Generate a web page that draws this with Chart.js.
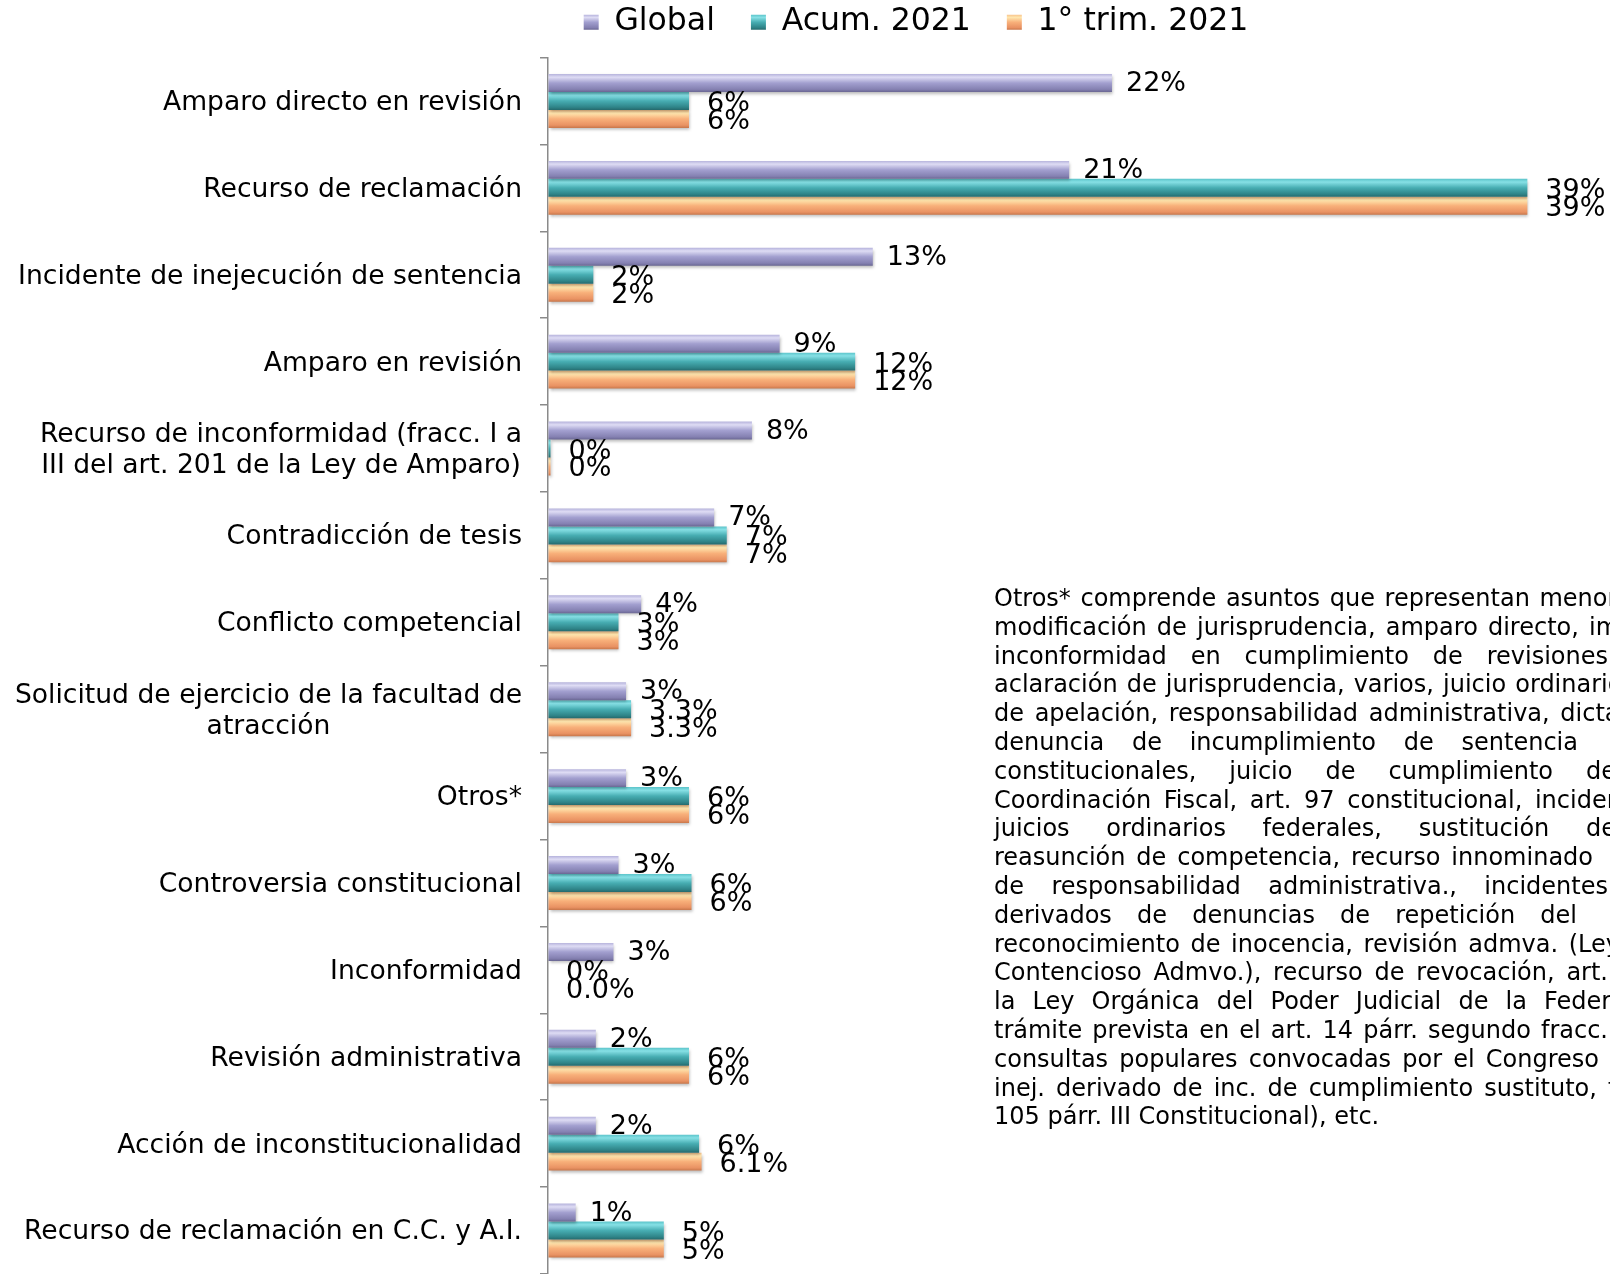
<!DOCTYPE html>
<html><head><meta charset="utf-8">
<script src="https://cdn.jsdelivr.net/npm/chart.js@4.4.1/dist/chart.umd.min.js"></script>
<style>
html,body{margin:0;padding:0;background:#fff;overflow:hidden;width:1610px;height:1274px}
#wrap{position:absolute;left:0;top:0;width:1832px;height:1274px}
#note{position:absolute;left:994px;top:584px;font:24px "DejaVu Sans",sans-serif;line-height:28.8px;color:#000}
#note div{white-space:nowrap;height:28.8px}
#note div.j{text-align:justify;text-align-last:justify;white-space:normal;overflow:visible}
</style></head>
<body>
<div id="wrap"><canvas id="c" width="1832" height="1274"></canvas></div>
<div id="note">
 <div style="word-spacing:2px">Otros* comprende asuntos que representan menor</div>
 <div style="word-spacing:2.5px">modificación de jurisprudencia, amparo directo, impedimento</div>
 <div class="j" style="width:614px">inconformidad en cumplimiento de revisiones</div>
 <div style="word-spacing:1.5px">aclaración de jurisprudencia, varios, juicio ordinario</div>
 <div style="word-spacing:3px">de apelación, responsabilidad administrativa, dictamen</div>
 <div class="j" style="width:584px">denuncia de incumplimiento de sentencia</div>
 <div class="j" style="width:622px">constitucionales, juicio de cumplimiento de</div>
 <div style="word-spacing:5px">Coordinación Fiscal, art. 97 constitucional, incidente</div>
 <div class="j" style="width:622px">juicios ordinarios federales, sustitución de</div>
 <div class="j" style="width:599px">reasunción de competencia, recurso innominado</div>
 <div class="j" style="width:614px">de responsabilidad administrativa., incidentes</div>
 <div class="j" style="width:583px">derivados de denuncias de repetición del</div>
 <div class="j" style="width:626px">reconocimiento de inocencia, revisión admva. (Ley</div>
 <div class="j" style="width:614px">Contencioso Admvo.), recurso de revocación, art.</div>
 <div style="word-spacing:9.5px">la Ley Orgánica del Poder Judicial de la Federación</div>
 <div class="j" style="width:614px">trámite prevista en el art. 14 párr. segundo fracc.</div>
 <div class="j" style="width:605px">consultas populares convocadas por el Congreso</div>
 <div style="word-spacing:3.5px">inej. derivado de inc. de cumplimiento sustituto, fracc.</div>
 <div>105 párr. III Constitucional), etc.</div>
</div>
<script>
const FONT='"DejaVu Sans",sans-serif';
const CATS=[
 "Amparo directo en revisión",
 "Recurso de reclamación",
 "Incidente de inejecución de sentencia",
 "Amparo en revisión",
 ["Recurso de inconformidad (fracc. I a","III del art. 201 de la Ley de Amparo)"],
 "Contradicción de tesis",
 "Conflicto competencial",
 ["Solicitud de ejercicio de la facultad de","atracción"],
 "Otros*",
 "Controversia constitucional",
 "Inconformidad",
 "Revisión administrativa",
 "Acción de inconstitucionalidad",
 "Recurso de reclamación en C.C. y A.I."
];
const SERIES=["Global","Acum. 2021","1° trim. 2021"];
const GLOBAL=[22.4,20.7,12.9,9.2,8.1,6.6,3.7,3.1,3.1,2.8,2.6,1.9,1.9,1.1];
const ACUM  =[5.6,38.9,1.8,12.2,0.1,7.1,2.8,3.3,5.6,5.7,0,5.6,6.0,4.6];
const TRIM  =[5.6,38.9,1.8,12.2,0.1,7.1,2.8,3.3,5.6,5.7,0,5.6,6.1,4.6];
// decimales mostrados en cada etiqueta
const DEC_GLOBAL=[0,0,0,0,0,0,0,0,0,0,0,0,0,0];
const DEC_ACUM  =[0,0,0,0,0,0,0,1,0,0,0,0,0,0];
const DEC_TRIM  =[0,0,0,0,0,0,0,1,0,0,1,0,1,0];

const STYLE=[
 {base:"#9b98c8",stops:["#b6b3dc","#dedcf4","#a29fcf","#8581b2","#6a6793"],gap:14,dy:1,dec:DEC_GLOBAL},
 {base:"#3fa5aa",stops:["#5cc4ca","#86e0e5","#47adb2","#2f8488","#256a6d"],gap:18,dy:3,dec:DEC_ACUM},
 {base:"#f5a56f",stops:["#f8c48c","#ffe6ae","#f8b07a","#e99263","#c8774b"],gap:18,dy:3,dec:DEC_TRIM},
];

function shade(c,st,t,h){
  const g=c.createLinearGradient(0,t,0,t+h);
  g.addColorStop(0,st[0]);g.addColorStop(0.18,st[1]);g.addColorStop(0.5,st[2]);
  g.addColorStop(0.85,st[3]);g.addColorStop(1,st[4]);
  return g;
}

const bevel={id:"bevel",
 beforeDatasetsDraw(chart){
  const c=chart.ctx;
  chart.data.datasets.forEach((ds,i)=>{
   chart.getDatasetMeta(i).data.forEach(b=>{
    b.options=Object.assign({},b.options,{backgroundColor:shade(c,STYLE[i].stops,b.y-b.height/2,b.height)});
   });
  });
  c.save();c.shadowColor="rgba(0,0,0,.28)";c.shadowBlur=3;c.shadowOffsetY=2;c.shadowOffsetX=1;
 },
 afterDatasetsDraw(chart){chart.ctx.restore();}
};

const valLabels={id:"valLabels",
 afterDatasetsDraw(chart){
  const c=chart.ctx;c.save();
  c.font="27px "+FONT;c.fillStyle="#000";c.textAlign="left";c.textBaseline="middle";
  chart.data.datasets.forEach((ds,i)=>{
   const st=STYLE[i];
   chart.getDatasetMeta(i).data.forEach((b,j)=>{
    c.fillText(ds.data[j].toFixed(st.dec[j])+"%",b.x+st.gap,b.y+st.dy);
   });
  });
  c.restore();
 }
};

const yLabels={id:"yLabels",
 afterDraw(chart){
  const c=chart.ctx,s=chart.scales.y;c.save();
  c.font="26.6px "+FONT;c.fillStyle="#000";c.textAlign="center";c.textBaseline="middle";
  CATS.forEach((lab,i)=>{
   const lines=Array.isArray(lab)?lab:[lab];
   const w=Math.max(...lines.map(l=>c.measureText(l).width));
   const cx=s.right-26-w/2,y0=s.getPixelForValue(i)+2-(lines.length-1)*31/2;
   lines.forEach((l,k)=>c.fillText(l,cx,y0+k*31));
  });
  c.restore();
 }
};

new Chart(document.getElementById("c"),{
 type:"bar",
 data:{labels:CATS,datasets:[GLOBAL,ACUM,TRIM].map((d,i)=>({
  label:SERIES[i],data:d,backgroundColor:()=>STYLE[i].base,borderWidth:0,
  categoryPercentage:0.62,barPercentage:1}))},
 plugins:[bevel,valLabels,yLabels],
 options:{indexAxis:"y",responsive:false,animation:false,
  layout:{padding:{top:-29.5,left:0,right:0,bottom:0}},
  scales:{
   x:{position:"top",min:0,max:51,ticks:{display:false},border:{display:false},
      grid:{drawOnChartArea:false,drawTicks:true,tickLength:9.5,color:"rgba(0,0,0,0)"}},
   y:{ticks:{display:false},border:{display:true,color:"#8a8a8a",width:1.5},
      grid:{drawOnChartArea:false,offset:true,tickLength:8,color:"#8a8a8a",lineWidth:1.5},
      afterFit(s){s.width=548;}}
  },
  plugins:{tooltip:{enabled:false},
   legend:{position:"top",labels:{font:{size:31.5,family:FONT},color:"#000",boxWidth:15,boxHeight:15,padding:36,
    generateLabels(chart){
     const items=Chart.defaults.plugins.legend.labels.generateLabels(chart);
     items.forEach((it,i)=>{it.fillStyle=shade(chart.ctx,STYLE[i].stops,14.75,15);it.lineWidth=0;});
     return items;
    }}}}
 }
});
</script>
</body></html>
